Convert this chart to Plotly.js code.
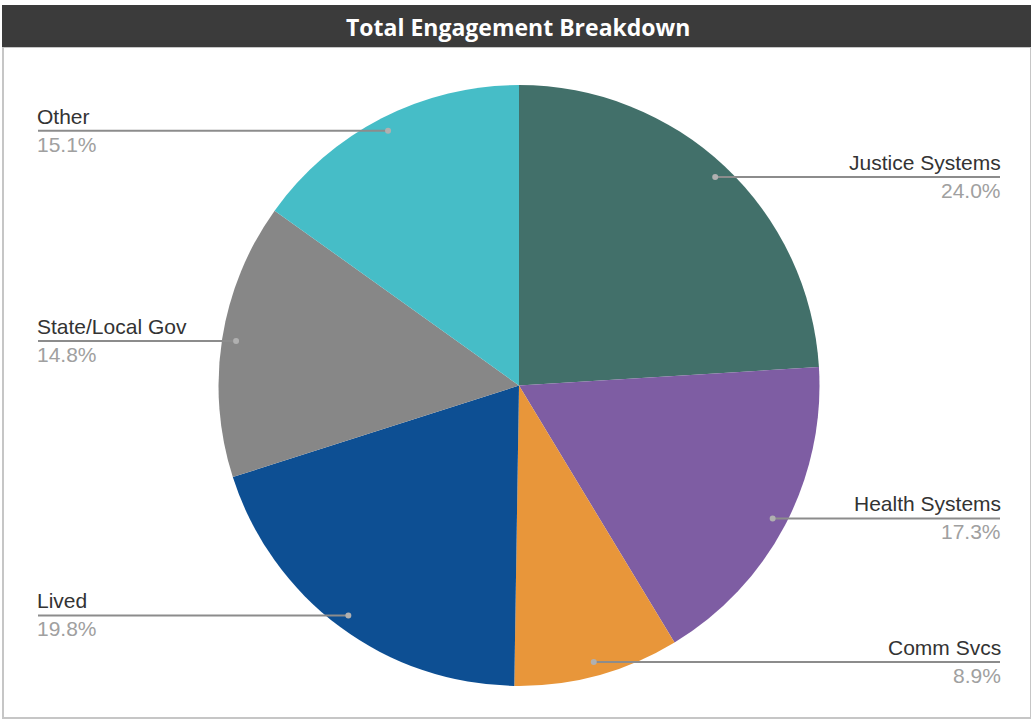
<!DOCTYPE html>
<html>
<head>
<meta charset="utf-8">
<script src="https://cdn.plot.ly/plotly-3.0.1.min.js"></script>
<style>html,body{margin:0;padding:0;background:#fff;}#chart{width:1031px;height:721px;}</style>
</head>
<body>
<div id="chart"></div>
<script>
const categories = ["Justice Systems", "Health Systems", "Comm Svcs", "Lived", "State/Local Gov", "Other"];
const values = [24.0, 17.3, 8.9, 19.8, 14.8, 15.1];
const pctLabels = ["24.0%", "17.3%", "8.9%", "19.8%", "14.8%", "15.1%"];
const colors = ["#42706A", "#7E5DA3", "#E8963A", "#0D4F93", "#878787", "#46BDC7"];

const W = 1031, H = 721;
const cx = 519, cy = 385.5, R = 300.5;
const px = x => x / W;
const py = y => 1 - y / H;

const total = values.reduce((a, b) => a + b, 0);
const shapes = [];
const annotations = [];

// title bar and frame
shapes.push({type: 'rect', xref: 'paper', yref: 'paper', x0: px(3), x1: px(1031), y0: py(718), y1: py(47),
  line: {color: '#c6c6c6', width: 2}, fillcolor: 'rgba(0,0,0,0)', layer: 'below'});
shapes.push({type: 'rect', xref: 'paper', yref: 'paper', x0: px(2), x1: px(1031), y0: py(47), y1: py(5),
  line: {width: 0}, fillcolor: '#3b3b3b', layer: 'below'});
annotations.push({text: '<b>Total Engagement Breakdown</b>', xref: 'paper', yref: 'paper', x: px(518), y: py(27),
  xanchor: 'center', yanchor: 'middle', showarrow: false,
  font: {family: 'Open Sans, sans-serif', size: 23, color: '#ffffff'}});

let cum = 0;
values.forEach((v, i) => {
  const mid = (cum + v / 2) / total * 2 * Math.PI;
  cum += v;
  const dx = Math.sin(mid), dy = -Math.cos(mid);
  const dotX = cx + 0.953 * R * dx;
  const dotY = cy + 0.953 * R * dy;
  const right = dx >= 0;
  const edgeX = right ? 1000 : 38;
  shapes.push({type: 'line', xref: 'paper', yref: 'paper', x0: px(dotX), x1: px(edgeX), y0: py(dotY), y1: py(dotY),
    line: {color: '#8c8c8c', width: 2}});
  shapes.push({type: 'circle', xref: 'paper', yref: 'paper', x0: px(dotX - 3), x1: px(dotX + 3), y0: py(dotY + 3), y1: py(dotY - 3),
    line: {width: 0}, fillcolor: '#b0b0b0'});
  annotations.push({text: categories[i], xref: 'paper', yref: 'paper', x: px(edgeX), y: py(dotY - 1),
    xanchor: right ? 'right' : 'left', yanchor: 'bottom', showarrow: false, xshift: right ? 3 : -3,
    font: {family: 'Liberation Sans, Arial, sans-serif', size: 21, color: '#333333'}});
  annotations.push({text: pctLabels[i], xref: 'paper', yref: 'paper', x: px(edgeX), y: py(dotY + 0),
    xanchor: right ? 'right' : 'left', yanchor: 'top', showarrow: false, xshift: right ? 3 : -3,
    font: {family: 'Liberation Sans, Arial, sans-serif', size: 21, color: '#a0a0a0'}});
});

const data = [{
  type: 'pie',
  labels: categories,
  values: values,
  sort: false,
  direction: 'clockwise',
  rotation: 0,
  textinfo: 'none',
  hoverinfo: 'label+percent',
  marker: {colors: colors, line: {width: 0}},
  domain: {x: [px(cx - R), px(cx + R)], y: [py(cy + R), py(cy - R)]},
  showlegend: false
}];

const layout = {
  width: W, height: H,
  margin: {l: 0, r: 0, t: 0, b: 0},
  paper_bgcolor: '#ffffff',
  showlegend: false,
  shapes: shapes,
  annotations: annotations
};

Plotly.newPlot('chart', data, layout, {displayModeBar: false, staticPlot: true});
</script>
</body>
</html>
